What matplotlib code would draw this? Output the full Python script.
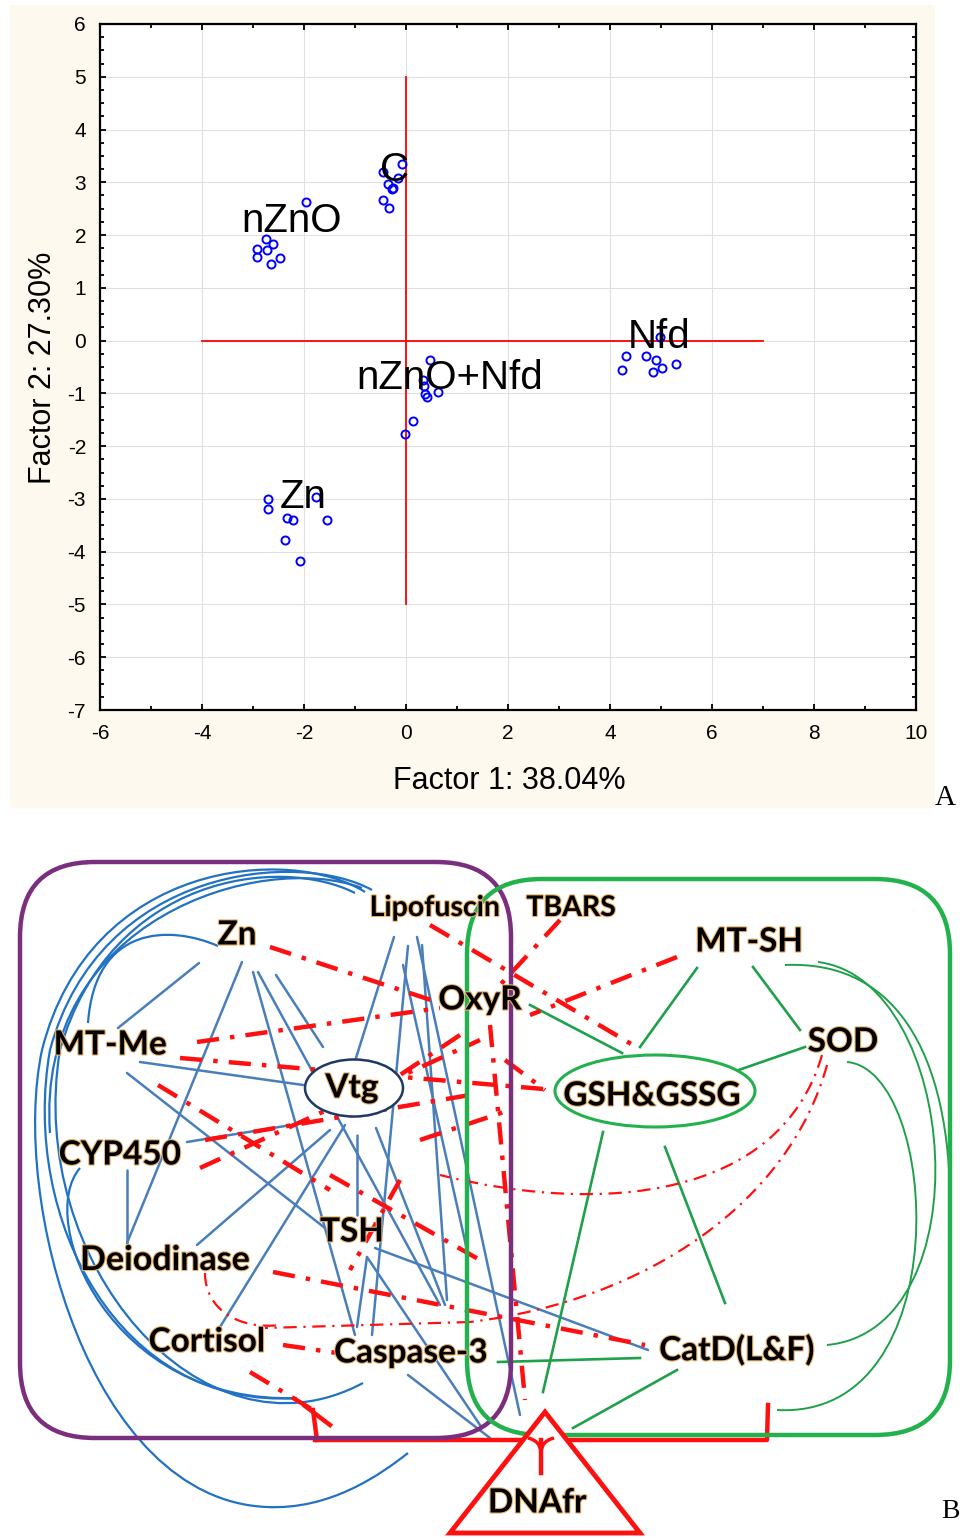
import matplotlib
matplotlib.use('Agg')
import matplotlib.pyplot as plt
import matplotlib.patches as mpatches
from matplotlib.path import Path
import matplotlib.patheffects as pe
from matplotlib.ticker import MultipleLocator

plt.rcParams['axes.unicode_minus'] = False

# ---------------- Panel A data (factor scores) ----------------
c_x = [-0.07, -0.45, -0.15, -0.35, -0.25, -0.27, -0.45, -0.33]
c_y = [3.35, 3.19, 3.09, 2.96, 2.89, 2.87, 2.66, 2.51]
nzno_x = [-1.96, -2.75, -2.60, -2.92, -2.72, -2.92, -2.47, -2.64]
nzno_y = [2.62, 1.93, 1.83, 1.73, 1.72, 1.59, 1.57, 1.45]
mix_x = [0.48, 0.34, 0.35, 0.37, 0.42, 0.62, 0.14, -0.02]
mix_y = [-0.37, -0.75, -0.86, -1.01, -1.06, -0.97, -1.52, -1.77]
zn_x = [-2.71, -2.71, -1.77, -2.33, -2.21, -1.54, -2.37, -2.07]
zn_y = [-3.01, -3.20, -2.97, -3.36, -3.40, -3.40, -3.77, -4.17]
nfd_x = [4.98, 4.31, 4.71, 4.91, 4.23, 5.01, 4.85, 5.29]
nfd_y = [0.06, -0.29, -0.29, -0.37, -0.56, -0.51, -0.59, -0.44]
group_labels = ['C', 'nZnO', 'nZnO+Nfd', 'Zn', 'Nfd']
label_x = [-0.22, -2.24, 0.86, -2.02, 4.96]
label_y = [3.23, 2.27, -0.71, -2.96, 0.07]
cross_h_x = [-4, 7]
cross_v_y = [-5, 5]
x_label = 'Factor 1: 38.04%'
y_label = 'Factor 2: 27.30%'

# ---------------- Panel B data (network diagram, pixel space) ----------------
node_names = ['Lipofuscin', 'TBARS', 'Zn', 'MT-SH', 'OxyR', 'MT-Me', 'SOD', 'Vtg',
              'GSH&GSSG', 'CYP450', 'TSH', 'Deiodinase', 'Cortisol', 'Caspase-3',
              'CatD(L&F)', 'DNAfr']
node_x = [435, 571, 237, 749, 480, 110, 843, 352, 652, 120, 352, 165, 207, 411, 737, 537]
node_y = [908, 908, 935, 942, 1000, 1045, 1042, 1088, 1096, 1155, 1232, 1260, 1342, 1353, 1350, 1503]
node_size = [20.5, 20.5, 24, 24, 24, 24, 24, 24, 24, 24, 24, 24.5, 24, 24, 24, 24]

blue_edges = [
    [(199, 963), (118, 1028)], [(242, 962), (127, 1243)], [(253, 972), (355, 1335)],
    [(258, 972), (440, 1305)], [(276, 975), (323, 1047)], [(394, 937), (356, 1058)],
    [(408, 946), (372, 1335)], [(417, 937), (520, 1415)], [(422, 945), (447, 1300)],
    [(140, 1062), (303, 1085)], [(127, 1073), (325, 1228)], [(187, 1142), (322, 1120)],
    [(127, 1170), (127, 1243)], [(330, 1130), (197, 1245)], [(345, 1125), (220, 1327)],
    [(357, 1135), (357, 1215)], [(376, 1128), (445, 1305)], [(367, 1257), (357, 1327)],
    [(367, 1257), (482, 1428)], [(375, 1248), (648, 1350)], [(408, 1375), (490, 1438)],
    [(403, 965), (467, 1250)],
]
blue_curves = [
    [(365, 892), (290, 845), (90, 860), (42, 1050), (10, 1200), (90, 1500), (267, 1507),
     (330, 1510), (380, 1475), (408, 1453)],
    [(372, 890), (300, 850), (100, 865), (50, 1050), (20, 1220), (120, 1410), (297, 1398)],
    [(355, 893), (280, 855), (110, 875), (60, 1050), (25, 1260), (200, 1470), (363, 1383)],
    [(362, 888), (260, 850), (35, 920), (50, 1133)],
    [(218, 946), (170, 925), (95, 925), (88, 1023)],
    [(80, 1168), (35, 1220), (110, 1405), (297, 1398)],
]
green_edges = [
    [(697, 968), (640, 1047)], [(753, 967), (800, 1030)], [(530, 1005), (622, 1053)],
    [(805, 1047), (730, 1073)], [(603, 1132), (543, 1392)], [(665, 1147), (725, 1303)],
    [(498, 1362), (640, 1358)], [(677, 1370), (573, 1428)],
]
green_curves = [
    [(785, 965), (900, 960), (955, 1060), (950, 1230)],
    [(818, 962), (960, 980), (985, 1330), (827, 1345)],
    [(847, 1062), (940, 1070), (960, 1420), (777, 1410)],
]
red_thick = [
    [(270, 947), (440, 1003)], [(560, 920), (500, 985)], [(430, 925), (638, 1048)],
    [(677, 957), (530, 1015)], [(197, 1042), (440, 1008)], [(180, 1058), (555, 1090)],
    [(158, 1085), (330, 1190)], [(200, 1168), (480, 1040)], [(205, 1140), (470, 1095)],
    [(273, 1272), (645, 1345)], [(490, 1025), (525, 1400)], [(250, 1372), (313, 1410)],
    [(283, 1345), (337, 1353)], [(400, 1180), (350, 1270)], [(460, 1035), (400, 1075)],
    [(330, 1175), (480, 1260)], [(505, 1060), (545, 1090)], [(420, 1140), (510, 1110)],
]
red_thin_curves = [
    [(822, 1055), (780, 1200), (600, 1215), (440, 1175)],
    [(827, 1065), (790, 1200), (650, 1300), (470, 1322)],
    [(205, 1273), (205, 1310), (240, 1330), (280, 1325)],
]
red_thin_lines = [[(470, 1322), (265, 1328)]]
purple_box = (20, 862, 491, 576)
green_box = (467, 879, 483, 556)
vtg_ellipse = (354, 1088, 98, 57)
gsh_ellipse = (655, 1091, 200, 72)
triangle = [(450, 1533), (545, 1412), (640, 1533)]
red_base = [(315, 1440), (767, 1440), (768, 1405)]

# ---------------- Figure ----------------
W, H = 960, 1538
fig = plt.figure(figsize=(9.6, 15.38), dpi=100)

def fx(px):
    return px / W

def fy(py):
    return 1 - py / H

# beige background of panel A
bg = mpatches.Rectangle((fx(10), fy(808)), fx(925), 803 / H,
                        transform=fig.transFigure, facecolor='#FDF9EE',
                        edgecolor='none', zorder=-10)
fig.add_artist(bg)

axA = fig.add_axes([fx(100), fy(710), fx(816), 686 / H], zorder=1)
axA.set_facecolor('white')
axA.set_xlim(-6, 10)
axA.set_ylim(-7, 6)
axA.xaxis.set_major_locator(MultipleLocator(2))
axA.xaxis.set_minor_locator(MultipleLocator(1))
axA.yaxis.set_major_locator(MultipleLocator(1))
axA.yaxis.set_minor_locator(MultipleLocator(0.25))
axA.grid(True, which='major', color='#E0E0E0', lw=0.8)
axA.set_axisbelow(True)
for s in axA.spines.values():
    s.set_linewidth(1.6)
axA.tick_params(which='both', direction='in', top=True, right=True, width=1.3,
                labelsize=15, pad=10)
axA.tick_params(which='major', length=4)
axA.tick_params(which='minor', length=3)
for lab in axA.get_xticklabels() + axA.get_yticklabels():
    lab.set_fontfamily('Liberation Sans')

axA.plot(cross_h_x, [0, 0], color='red', lw=1.3, zorder=2)
axA.plot([0, 0], cross_v_y, color='red', lw=1.3, zorder=2)
for xs, ys in [(c_x, c_y), (nzno_x, nzno_y), (mix_x, mix_y), (zn_x, zn_y), (nfd_x, nfd_y)]:
    axA.plot(xs, ys, 'o', mfc='none', mec='#0000FF', ms=5.8, mew=1.4, zorder=3)
for t, x, y in zip(group_labels, label_x, label_y):
    axA.text(x, y, t, fontsize=29, family='Liberation Sans', ha='center', va='center',
             zorder=4)
axA.set_xlabel(x_label, fontsize=22, family='Liberation Sans')
axA.set_ylabel(y_label, fontsize=22, family='Liberation Sans')
axA.xaxis.label.set_va('center')
axA.yaxis.label.set_va('center')
axA.xaxis.set_label_coords(0.501, -0.104)
axA.yaxis.set_label_coords(-0.07, 0.4985)
fig.text(fx(945), fy(798), 'A', fontsize=21, family='Liberation Serif', ha='center',
         va='center')

# ---------------- Panel B ----------------
axB = fig.add_axes([0, 0, 1, (H - 815) / H], zorder=1)
axB.set_xlim(0, 960)
axB.set_ylim(1538, 815)
axB.axis('off')

def bez(ax, pts, **kw):
    codes = [Path.MOVETO] + [Path.CURVE4] * (len(pts) - 1)
    ax.add_patch(mpatches.PathPatch(Path(pts, codes), facecolor='none', **kw))

purple = '#7B2D7E'
gbox = '#22B14C'
gline = '#1FA04A'
steel = '#4A7EBB'
dblue = '#2272C3'
red = '#FF1010'

x0, y0, w, h = purple_box
axB.add_patch(mpatches.FancyBboxPatch((x0, y0), w, h,
                                      boxstyle='round,pad=0,rounding_size=75',
                                      fc='none', ec=purple, lw=3.2, zorder=3))
x0, y0, w, h = green_box
axB.add_patch(mpatches.FancyBboxPatch((x0, y0), w, h,
                                      boxstyle='round,pad=0,rounding_size=75',
                                      fc='none', ec=gbox, lw=3.2, zorder=3))

for (a, b) in blue_edges:
    axB.plot([a[0], b[0]], [a[1], b[1]], color=steel, lw=1.8, zorder=2,
             solid_capstyle='round')
for c in blue_curves:
    bez(axB, c, edgecolor=dblue, lw=1.6, zorder=2)
for (a, b) in green_edges:
    axB.plot([a[0], b[0]], [a[1], b[1]], color=gline, lw=1.9, zorder=2)
for c in green_curves:
    bez(axB, c, edgecolor=gline, lw=1.4, zorder=2)
for (a, b) in red_thick:
    axB.plot([a[0], b[0]], [a[1], b[1]], color=red, lw=3.2, zorder=2.5,
             linestyle=(0, (5, 2.5, 1, 2.5)))
for c in red_thin_curves:
    bez(axB, c, edgecolor=red, lw=1.6, zorder=2.5, linestyle=(0, (6, 3, 1, 3)))
for (a, b) in red_thin_lines:
    axB.plot([a[0], b[0]], [a[1], b[1]], color=red, lw=1.6, zorder=2.5,
             linestyle=(0, (6, 3, 1, 3)))

# red base line with inhibition ticks
axB.plot([p[0] for p in red_base], [p[1] for p in red_base], color=red, lw=3.2,
         zorder=2.8)
axB.plot([313, 317], [1410, 1440], color=red, lw=3.2, zorder=2.8)
axB.plot([305, 330], [1406, 1425], color=red, lw=3.2, zorder=2.8)
axB.plot([541, 541], [1440, 1473], color=red, lw=3.2, zorder=5)
bez(axB, [(528, 1438), (536, 1440), (540, 1444), (541, 1452)], edgecolor=red, lw=2.5, zorder=5)
bez(axB, [(554, 1438), (546, 1440), (542, 1444), (541, 1452)], edgecolor=red, lw=2.5, zorder=5)

cx, cy, ew, eh = vtg_ellipse
axB.add_patch(mpatches.Ellipse((cx, cy), ew, eh, fc='white', ec='#1F3864', lw=1.8, zorder=4))
cx, cy, ew, eh = gsh_ellipse
axB.add_patch(mpatches.Ellipse((cx, cy), ew, eh, fc='white', ec=gbox, lw=2.2, zorder=4))
axB.add_patch(mpatches.Polygon(triangle, closed=True, fc='white', ec=red, lw=3.5, zorder=4))

glow = [pe.withStroke(linewidth=1.6, foreground='#E9B36E')]
for name, x, y, s in zip(node_names, node_x, node_y, node_size):
    axB.text(x, y, name, fontsize=s, family='Lato', fontweight='bold', ha='center',
             va='center', color='black', zorder=6, path_effects=glow)

fig.text(fx(941), fy(1512), 'B', fontsize=20, family='Liberation Serif', ha='left',
         va='center')

fig.savefig('out.png', dpi=100)
